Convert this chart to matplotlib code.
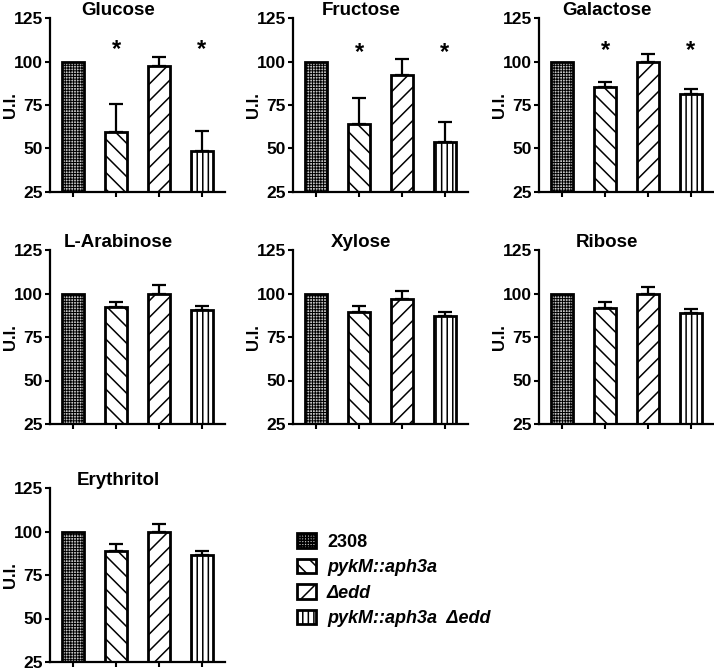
import matplotlib.pyplot as plt
from matplotlib.patches import Patch

plt.rcParams["font.family"] = ["Liberation Sans", "DejaVu Sans"]
plt.rcParams["font.weight"] = "bold"
plt.rcParams["hatch.linewidth"] = 1.1

sugars = ["Glucose", "Fructose", "Galactose", "L-Arabinose", "Xylose", "Ribose", "Erythritol"]
strains = ["2308", "pykM::aph3a", "\u0394edd", "pykM::aph3a  \u0394edd"]

wt_mean = [100, 100, 100, 100, 100, 100, 100]
pykm_mean = [59.2, 63.8, 85.6, 92.3, 89.4, 91.7, 88.6]
pykm_err = [16.4, 15.0, 2.9, 2.9, 3.3, 3.5, 4.4]
edd_mean = [97.7, 92.3, 99.6, 100.0, 97.1, 100.0, 100.0]
edd_err = [4.8, 9.2, 4.8, 4.8, 4.6, 4.0, 4.2]
double_mean = [48.5, 53.7, 81.3, 90.4, 87.1, 88.8, 86.4]
double_err = [11.5, 11.5, 2.9, 2.3, 2.3, 2.2, 2.2]

# stars over pykM and double mutant bars
star_sugars = ["Glucose", "Fructose", "Galactose"]
star_y = [107, 105, 106.5]

hatches = ["++++++", "\\\\", "//", "|||"]
hatch_lw = [0.7, 1.1, 1.1, 1.1]
faces = ["#c4c4c4", "white", "white", "white"]


def styled(patch, k):
    # per-patch hatch width where matplotlib supports it
    if hasattr(patch, "set_hatch_linewidth"):
        patch.set_hatch_linewidth(hatch_lw[k])
    return patch


W, H = 714, 669
fig = plt.figure(figsize=(W / 100, H / 100), dpi=100)

col_left = [50, 293, 539]
row_top = [18, 250, 488]
aw, ah = 175, 174

for i, sugar in enumerate(sugars):
    r, c = divmod(i, 3)
    ax = fig.add_axes([col_left[c] / W, 1 - (row_top[r] + ah) / H, aw / W, ah / H])
    vals = [wt_mean[i], pykm_mean[i], edd_mean[i], double_mean[i]]
    errs = [0, pykm_err[i], edd_err[i], double_err[i]]
    for k in range(4):
        bars = ax.bar(k, vals[k], width=0.53, bottom=0, color=faces[k], edgecolor="black",
                      linewidth=2.0, hatch=hatches[k], zorder=2)
        for b in bars:
            styled(b, k)
        if errs[k] > 0:
            ax.errorbar(k, vals[k], yerr=[[0], [errs[k]]], fmt="none", ecolor="black",
                        elinewidth=1.6, capsize=5, capthick=1.6, zorder=1)
    if sugar in star_sugars:
        sy = star_y[star_sugars.index(sugar)]
        for k in (1, 3):
            ax.text(k, sy, "*", ha="center", va="center", fontsize=17, fontweight="bold")

    ax.set_ylim(25, 125)
    ax.set_xlim(-0.535, 3.535)
    ax.set_yticks([25, 50, 75, 100, 125])
    ax.set_xticks([0, 1, 2, 3])
    ax.set_xticklabels([])
    ax.tick_params(axis="both", direction="out", length=3.5, width=1.5, labelsize=12.5, pad=1.5)
    for s in ("top", "right"):
        ax.spines[s].set_visible(False)
    for s in ("left", "bottom"):
        ax.spines[s].set_linewidth(1.6)
    ax.set_ylabel("U.I.", fontsize=12, fontweight="bold")
    ax.yaxis.set_label_coords(-0.185, 0.5)
    ax.text(0.39, 1.02, sugar, transform=ax.transAxes, ha="center", va="baseline",
            fontsize=13.5, fontweight="bold")

handles = [styled(Patch(facecolor=faces[k], edgecolor="black", linewidth=2.0, hatch=hatches[k]), k)
           for k in range(4)]
leg = fig.legend(handles, strains, loc="upper left", bbox_to_anchor=(290 / W, 1 - 526 / H),
                 frameon=False, fontsize=13, handlelength=1.05, handleheight=0.85,
                 handletextpad=0.6, labelspacing=0.45, borderaxespad=0)
for k, t in enumerate(leg.get_texts()):
    t.set_fontweight("bold")
    if k > 0:
        t.set_fontstyle("italic")

fig.savefig("out.png", dpi=100)
